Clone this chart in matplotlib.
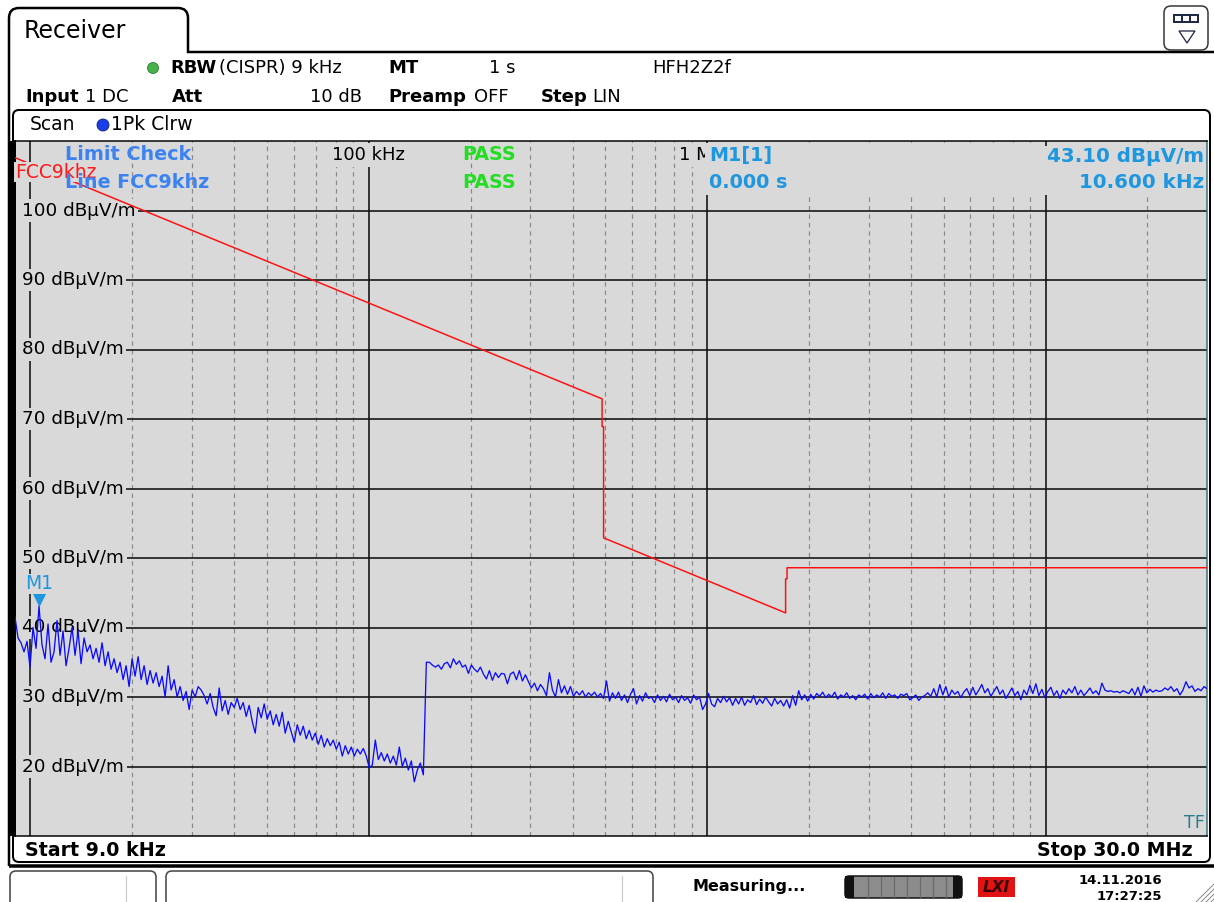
import numpy as np
import matplotlib
matplotlib.use("Agg")
import matplotlib.pyplot as plt
from matplotlib.patches import FancyBboxPatch, Rectangle, Polygon, Circle, PathPatch
from matplotlib.path import Path
from matplotlib.transforms import Affine2D, ScaledTranslation
from matplotlib.ticker import NullLocator

plt.rcParams['font.family'] = ['DejaVu Sans']

# ---------------- data ----------------
f_start_hz, f_stop_hz = 9e3, 30e6
y_min_db, y_max_db = 10, 110
y_grid_db = [20, 30, 40, 50, 60, 70, 80, 90, 100]
y_unit = "dBµV/m"
decades_hz = [1e4, 1e5, 1e6, 1e7]
top_freq_labels = {1e5: "100 kHz", 1e6: "1 MHz"}

# FCC 15.209 limit line (extrapolated to 10 m) as shown
limit_freq_khz = [9, 489, 489, 494, 494, 1705, 1705, 1722, 1722, 30000]
limit_db = [107.6, 72.9, 68.9, 68.9, 52.9, 42.1, 47.0, 47.0, 48.6, 48.6]
limit_name = "FCC9khz"

# 1Pk Clrw trace (dBµV/m), sweep points from 9 kHz to 30 MHz
trace_db = [
    41.5, 38.5, 37.8, 36.5, 38.0, 34.3, 40.0, 37.0, 43.1, 37.5,
    35.5, 40.5, 35.0, 36.5, 41.0, 36.0, 39.5, 34.5, 37.0, 40.0,
    36.0, 39.5, 34.8, 38.5, 36.5, 37.5, 35.5, 37.0, 35.0, 37.8,
    34.5, 36.5, 34.0, 35.5, 33.5, 35.0, 32.5, 34.5,
    31.5, 35.5, 33.0, 35.8, 32.5, 34.5, 31.8, 33.8, 32.0, 33.5,
    31.5, 33.0, 30.0, 34.5, 31.0, 32.5, 30.0, 31.5, 29.5, 30.8,
    28.2, 31.0, 30.0, 31.5,
    31.0, 30.2, 29.0, 30.5, 28.5, 27.3, 31.3, 28.0, 29.5, 27.5,
    29.2, 28.5, 29.8, 28.2, 29.2, 27.2, 28.8, 26.5, 24.8, 28.5,
    27.0, 29.0, 26.8, 28.0, 26.0, 27.5, 25.8, 27.8, 24.8, 26.5,
    25.0, 23.5, 26.0, 24.5, 25.8, 24.0, 25.2, 23.8, 24.8, 23.2,
    24.5, 22.8, 24.0, 23.0, 23.8, 22.5, 23.5, 21.5, 23.0, 21.8,
    22.8, 21.5, 22.5, 21.8, 22.6, 21.5, 19.8, 20.2, 23.8, 21.0,
    22.0, 20.8, 21.8, 20.5, 21.5, 20.2, 22.8, 20.0, 21.2, 19.5,
    20.8, 17.8, 19.5, 20.5, 18.8,
    35.0,
    35.0, 34.6, 34.3, 34.6, 34.0, 34.8, 35.0, 34.2, 35.5, 34.7,
    35.2, 34.3, 34.6, 33.4, 34.6, 34.0, 33.6, 34.3, 33.3, 32.6,
    33.8, 32.4, 33.5, 32.8, 33.4, 33.3, 31.9, 33.3, 33.6, 32.5,
    33.8, 32.3, 33.2, 32.2, 31.3, 32.0, 30.9, 31.8, 31.2, 30.2,
    33.5, 31.0, 30.0, 32.5, 30.6, 31.6, 30.4, 31.5, 30.1, 30.8,
    30.3, 30.9, 30.0, 30.6, 30.2, 30.7, 30.0, 30.5, 29.8, 32.3,
    29.4, 30.6, 29.8, 30.7, 29.5, 30.3, 29.2, 30.4, 31.2, 29.0,
    30.2, 29.4, 30.6, 29.8, 30.0, 29.2, 30.3, 29.5, 30.1, 29.3,
    30.4, 29.6, 30.0, 29.2, 30.2, 29.5, 29.9, 29.1, 30.3, 29.6,
    30.0, 28.2, 29.0, 30.5, 29.0, 28.6, 29.8, 29.2, 30.1, 29.3,
    29.9, 28.8, 29.8, 29.0, 30.0, 28.8, 29.6, 29.2, 30.2, 28.9,
    29.7, 29.1, 30.0, 29.3, 28.7, 29.8, 29.0,
    29.5, 28.7, 29.6, 28.4, 30.2, 28.8, 30.9, 29.6, 30.3, 29.4,
    30.4, 29.7, 30.5, 30.1, 30.7, 29.9, 30.4, 30.0, 30.7, 29.7,
    30.3, 30.0, 30.6, 29.8, 30.2, 29.6, 30.3, 30.0, 30.4, 29.7,
    30.5, 29.9, 30.3, 30.0, 30.6, 29.8, 30.5, 30.1, 30.3, 29.8,
    30.4, 30.2, 30.5, 29.6, 29.9, 30.3, 29.5, 30.0, 30.2, 30.6,
    30.1, 31.2, 30.0, 31.8, 30.3, 31.5, 30.0, 31.0, 30.4, 30.8,
    29.9, 30.7, 31.2, 30.2, 31.4, 30.3, 31.0, 31.8, 30.6, 31.2,
    30.1, 30.8, 31.5, 30.4, 31.0, 29.8, 30.5, 31.3, 30.2, 30.8,
    29.6, 31.0, 30.3, 31.7, 30.5, 31.9, 30.2, 31.1, 29.9, 30.8,
    31.4, 30.2, 30.9, 29.8, 31.0, 30.4, 31.2, 30.6, 31.5, 30.3,
    31.0, 30.2, 30.7, 31.3, 30.5, 30.9, 30.3, 32.0, 31.0, 30.8,
    30.9, 30.7, 30.8, 30.6, 30.9, 30.7, 30.5, 31.2, 30.3, 31.4,
    30.1, 31.6, 30.6, 31.1, 30.7, 31.0, 30.8, 30.9, 31.3, 31.0,
    31.5, 30.8, 31.2, 30.3, 31.0, 32.2, 31.3, 31.6, 30.8, 31.2,
    30.9, 31.5, 31.2,
]
marker_freq_hz = 10.6e3
marker_db = 43.10

# ---------------- figure ----------------
W, H = 1214, 902
GRAY = '#d9d9d9'
fig = plt.figure(figsize=(W / 100, H / 100), dpi=100)
fig.patch.set_facecolor('white')

bg = fig.add_axes([0, 0, 1, 1], zorder=0)
bg.set_xlim(0, W)
bg.set_ylim(H, 0)
bg.axis('off')

PT = 72 / 100.0  # points per pixel

# --- outer panel with "Receiver" tab
verts = [(9, 866), (9, 18), (9, 8), (19, 8), (178, 8), (188, 8), (188, 18),
         (188, 52), (1214, 52)]
codes = [Path.MOVETO, Path.LINETO, Path.CURVE3, Path.CURVE3, Path.LINETO,
         Path.CURVE3, Path.CURVE3, Path.LINETO, Path.LINETO]
bg.add_patch(PathPatch(Path(verts, codes), fc='none', ec='black', lw=2.5 * PT))
bg.plot([9, 1214], [866, 866], color='black', lw=3.5 * PT, solid_capstyle='butt')
bg.text(24, 31, "Receiver", fontsize=17, va='center', ha='left')

# icon top right
bg.add_patch(FancyBboxPatch((1164, 6), 44, 44, boxstyle='round,pad=0,rounding_size=7',
                            fc='white', ec='#333333', lw=1.5 * PT))
bg.add_patch(Rectangle((1173, 14), 26, 9, fc='#1f2a44', ec='none'))
for sx in (1175, 1183, 1191):
    bg.add_patch(Rectangle((sx, 16), 6, 5, fc='white', ec='none'))
bg.add_patch(Polygon([(1179, 31), (1195, 31), (1187, 43)], closed=True, fc='none',
                     ec='#1f2a44', lw=1.3 * PT))

# header rows
hs = 13
bg.add_patch(Circle((153, 68), 5.5, fc='#48b24a', ec='#2a7a2c', lw=0.8 * PT))
row1 = [(170, "RBW", 'bold'), (219, "(CISPR) 9 kHz", 'normal'), (388, "MT", 'bold'),
        (489, "1 s", 'normal'), (652, "HFH2Z2f", 'normal')]
row2 = [(25, "Input", 'bold'), (85, "1 DC", 'normal'), (172, "Att", 'bold'),
        (310, "10 dB", 'normal'), (388, "Preamp", 'bold'), (474, "OFF", 'normal'),
        (541, "Step", 'bold'), (592, "LIN", 'normal')]
for x, s, w in row1:
    bg.text(x, 68, s, fontsize=hs, fontweight=w, va='center', ha='left')
for x, s, w in row2:
    bg.text(x, 97, s, fontsize=hs, fontweight=w, va='center', ha='left')

# inner diagram frame
bg.add_patch(FancyBboxPatch((13, 110), 1197, 752, boxstyle='round,pad=0,rounding_size=6',
                            fc='white', ec='black', lw=2 * PT))
bg.add_patch(Rectangle((8, 141), 7, 695, fc='black', ec='none'))
bg.text(30, 125, "Scan", fontsize=13.5, va='center', ha='left')
bg.add_patch(Circle((103, 125), 6, fc='#1b3fe6', ec='#0a1a80', lw=0.8 * PT))
bg.text(111, 125, "1Pk Clrw", fontsize=13.5, va='center', ha='left')
bg.text(25, 850, "Start 9.0 kHz", fontsize=13.7, fontweight='bold', va='center', ha='left')
bg.text(1193, 850, "Stop 30.0 MHz", fontsize=13.7, fontweight='bold', va='center', ha='right')

# status bar
for (x0, w) in [(10, 146), (166, 487)]:
    bg.add_patch(FancyBboxPatch((x0, 871), w, 40, boxstyle='round,pad=0,rounding_size=6',
                                fc='white', ec='#4a4a4a', lw=1.6 * PT))
bg.plot([126, 126], [876, 902], color='#cccccc', lw=1.2 * PT)
bg.plot([622, 622], [876, 902], color='#cccccc', lw=1.2 * PT)
bg.text(692, 887, "Measuring...", fontsize=11.5, fontweight='bold', va='center', ha='left')
bg.add_patch(FancyBboxPatch((845, 876), 117, 22, boxstyle='round,pad=0,rounding_size=4',
                            fc='#8c8c8c', ec='#111111', lw=1.5 * PT))
bg.add_patch(Rectangle((845, 876), 9, 22, fc='#111111', ec='none'))
bg.add_patch(Rectangle((953, 876), 9, 22, fc='#111111', ec='none'))
for lx in (868, 881, 894, 907, 920, 933, 946):
    bg.plot([lx, lx], [877, 897], color='#6a6a6a', lw=1.2 * PT)
bg.add_patch(Rectangle((978, 877), 37, 20, fc='#e01414', ec='none'))
bg.text(996, 887, "LXI", fontsize=11, fontweight='bold', style='italic', color='#3a0000',
        va='center', ha='center')
bg.text(1162, 880, "14.11.2016", fontsize=9.5, fontweight='bold', va='center', ha='right')
bg.text(1162, 896, "17:27:25", fontsize=9.5, fontweight='bold', va='center', ha='right')
for k in range(4):
    bg.plot([1196 + 5 * k, 1214], [902, 884 + 5 * k], color='#888888', lw=1 * PT)

# ---------------- diagram ----------------
L, R, T, B = 15, 1207, 141, 836
ax = fig.add_axes([L / W, 1 - B / H, (R - L) / W, (B - T) / H], zorder=1)
ax.set_xscale('log')
ax.set_xlim(f_start_hz, f_stop_hz)
ax.set_ylim(y_min_db, y_max_db)
ax.set_facecolor(GRAY)
for a in (ax.xaxis, ax.yaxis):
    a.set_major_locator(NullLocator())
    a.set_minor_locator(NullLocator())
for side in ('top', 'bottom'):
    ax.spines[side].set_color('black')
    ax.spines[side].set_linewidth(1.5 * PT)
ax.spines['left'].set_color('black')
ax.spines['left'].set_linewidth(2 * PT)
ax.spines['right'].set_color('#2f6f7f')
ax.spines['right'].set_linewidth(1.5 * PT)

pix = Affine2D().scale(1 / W, -1 / H).translate(0, 1) + fig.transFigure

# grid
for d in decades_hz:
    for m in range(2, 10):
        f = m * d
        if f_start_hz < f < f_stop_hz:
            ax.axvline(f, color='#8a8a8a', lw=1.2 * PT, dashes=(3.75, 3.3), zorder=1)
    ax.axvline(d, color='#111111', lw=1.6 * PT, zorder=1.2)
for yv in y_grid_db:
    ax.axhline(yv, color='#111111', lw=1.6 * PT, zorder=1.2)

lab_fs = 13.2
xlab = (22.5 - L) / (R - L)
yax = ax.get_yaxis_transform()
for yv in y_grid_db:
    ax.text(xlab, yv, f"{yv} {y_unit}", transform=yax, fontsize=lab_fs,
            va='center', ha='left', zorder=2,
            bbox=dict(boxstyle='square,pad=0.12', fc=GRAY, ec='none'))
    # grid line starts after the label
    ax.hlines(yv, 0, (23 - L) / (R - L), transform=yax, color=GRAY, lw=4, zorder=1.9)
for f, s in top_freq_labels.items():
    ax.text(f, (B - 155) / (B - T), s, transform=ax.get_xaxis_transform(), fontsize=13,
            va='center', ha='center', zorder=2,
            bbox=dict(boxstyle='square,pad=0.15', fc=GRAY, ec='none'))

# marker info box (opaque)
ax.add_patch(Rectangle((705, 146), R - 705, 49, transform=pix, fc=GRAY, ec='none', zorder=2.5))

# limit line
ax.plot(np.array(limit_freq_khz) * 1e3, limit_db, color='#ff1010', lw=1.5 * PT, zorder=3)
ax.text(15, 172, limit_name, transform=pix, color='#ff1a1a', fontsize=13.5, va='center',
        ha='left', zorder=5, bbox=dict(boxstyle='square,pad=0.05', fc=GRAY, ec='none'))

# trace
trace_f = np.geomspace(f_start_hz, f_stop_hz, len(trace_db))
ax.plot(trace_f, trace_db, color='#0a0aff', lw=1.3 * PT, zorder=4)

# marker
mk_col = '#1e96e0'
ax.plot([marker_freq_hz], [marker_db], marker='v', ms=9, color=mk_col, mec=mk_col, zorder=6,
        transform=ax.transData + ScaledTranslation(0, 7 / 100, fig.dpi_scale_trans))
ax.annotate("M1", (marker_freq_hz, marker_db), xytext=(0, 22 * PT), textcoords='offset points',
            color=mk_col, fontsize=13.5, ha='center', va='center', zorder=6,
            bbox=dict(boxstyle='square,pad=0.05', fc=GRAY, ec='none'))

# limit check + marker texts
lc_col = '#3c82f0'
bfs = 13.8
ax.text(65, 155, "Limit Check", transform=pix, color=lc_col, fontsize=bfs, fontweight='bold',
        va='center', ha='left', zorder=6)
ax.text(65, 182, "Line " + limit_name, transform=pix, color=lc_col, fontsize=bfs,
        fontweight='bold', va='center', ha='left', zorder=6)
for yy in (155, 182):
    ax.text(462, yy, "PASS", transform=pix, color='#22dd22', fontsize=bfs, fontweight='bold',
            va='center', ha='left', zorder=6)
ax.text(709, 156, "M1[1]", transform=pix, color=mk_col, fontsize=bfs, fontweight='bold',
        va='center', ha='left', zorder=6)
ax.text(709, 182, "0.000 s", transform=pix, color=mk_col, fontsize=bfs, fontweight='bold',
        va='center', ha='left', zorder=6)
ax.text(1204, 156, f"{marker_db:.2f} {y_unit}", transform=pix, color=mk_col, fontsize=14.3,
        fontweight='bold', va='center', ha='right', zorder=6)
ax.text(1204, 182, f"{marker_freq_hz / 1e3:.3f} kHz", transform=pix, color=mk_col, fontsize=14.3,
        fontweight='bold', va='center', ha='right', zorder=6)
ax.text(1205, 823, "TF", transform=pix, color='#2e7d8c', fontsize=12.5, va='center', ha='right',
        zorder=6)

fig.savefig("out.png", dpi=100, facecolor='white')
